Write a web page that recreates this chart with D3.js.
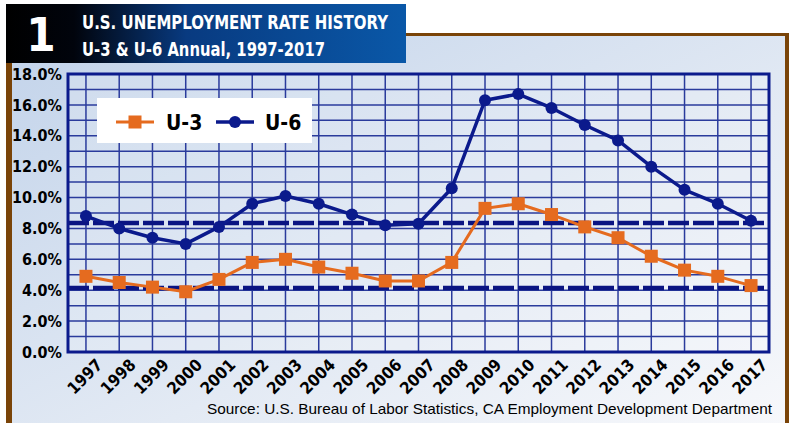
<!DOCTYPE html>
<html>
<head>
<meta charset="utf-8">
<script src="https://cdn.jsdelivr.net/npm/d3@7"></script>
<style>
  body { margin: 0; background: #fff; }
  svg { display: block; }
  .cond { font-family: "DejaVu Sans Condensed", "Liberation Sans Narrow", "Arial Narrow", sans-serif; font-stretch: condensed; }
  .src { font-family: "Liberation Sans", Arial, sans-serif; }
</style>
</head>
<body>
<svg id="chart"></svg>
<script>
var years = ["1997","1998","1999","2000","2001","2002","2003","2004","2005","2006","2007",
             "2008","2009","2010","2011","2012","2013","2014","2015","2016","2017"];
var u3 = [4.9,4.5,4.2,3.9,4.7,5.8,6.0,5.5,5.1,4.6,4.6,5.8,9.3,9.6,8.9,8.1,7.4,6.2,5.3,4.9,4.3];
var u6 = [8.8,8.0,7.4,7.0,8.1,9.6,10.1,9.6,8.9,8.2,8.3,10.6,16.3,16.7,15.8,14.7,13.7,12.0,10.5,9.6,8.5];
var yTicks = [0,2,4,6,8,10,12,14,16,18];
var refLines = [8.35, 4.15];
var seriesNames = ["U-3","U-6"];

var W = 789, H = 423;
var pLeft = 68, pRight = 769, pTop = 74, pBottom = 352;
var navy = "#0b1a8c", orange = "#e56b1f", brown = "#7a4408";

var svg = d3.select("#chart").attr("width", W).attr("height", H);
var defs = svg.append("defs");

var bg = defs.append("linearGradient").attr("id","bgGrad")
  .attr("x1","0").attr("y1","0").attr("x2","1").attr("y2","1");
bg.append("stop").attr("offset","0%").attr("stop-color","#c2d3ea");
bg.append("stop").attr("offset","60%").attr("stop-color","#e3eaf4");
bg.append("stop").attr("offset","100%").attr("stop-color","#f7f8fb");

var tg = defs.append("linearGradient").attr("id","titleGrad")
  .attr("x1","0").attr("y1","0").attr("x2","1").attr("y2","0");
tg.append("stop").attr("offset","0%").attr("stop-color","#000000");
tg.append("stop").attr("offset","17%").attr("stop-color","#01040c");
tg.append("stop").attr("offset","45%").attr("stop-color","#083a80");
tg.append("stop").attr("offset","100%").attr("stop-color","#0a58a8");

// framed background
svg.append("rect").attr("x",6).attr("y",33).attr("width",783).attr("height",H-33).attr("fill","url(#bgGrad)");
svg.append("rect").attr("x",6).attr("y",33).attr("width",783).attr("height",3).attr("fill",brown);
svg.append("rect").attr("x",785).attr("y",33).attr("width",4).attr("height",H-33).attr("fill",brown);
svg.append("rect").attr("x",6).attr("y",33).attr("width",6).attr("height",H-33).attr("fill",brown);

// title block
svg.append("rect").attr("x",6).attr("y",4).attr("width",400).attr("height",59).attr("fill","url(#titleGrad)");
svg.append("text").attr("class","cond").attr("x",41).attr("y",51).attr("text-anchor","middle")
  .attr("font-size",47).attr("font-weight","bold").attr("fill","#fff").text("1");
svg.append("text").attr("class","cond").attr("x",82).attr("y",29)
  .attr("font-size",20).attr("font-weight","bold").attr("fill","#fff")
  .attr("textLength",306).attr("lengthAdjust","spacingAndGlyphs")
  .text("U.S. UNEMPLOYMENT RATE HISTORY");
svg.append("text").attr("class","cond").attr("x",82).attr("y",56)
  .attr("font-size",20).attr("font-weight","bold").attr("fill","#fff")
  .attr("textLength",243).attr("lengthAdjust","spacingAndGlyphs")
  .text("U-3 & U-6 Annual, 1997-2017");

var x = d3.scalePoint().domain(years).range([pLeft, pRight]).padding(0.54);
var y = d3.scaleLinear().domain([0,18]).range([pBottom, pTop]);

// plot background + grid
svg.append("rect").attr("x",pLeft).attr("y",pTop).attr("width",pRight-pLeft).attr("height",pBottom-pTop)
  .attr("fill","#fff").attr("fill-opacity",0.15);

var grid = svg.append("g");
grid.selectAll("line.h").data(d3.range(1,18)).enter().append("line")
  .attr("x1",pLeft).attr("x2",pRight)
  .attr("y1",function(d){ return y(d); }).attr("y2",function(d){ return y(d); })
  .attr("stroke","#2a3b9c").attr("stroke-width",1.5);
grid.selectAll("line.v").data(years).enter().append("line")
  .attr("y1",pTop).attr("y2",pBottom)
  .attr("x1",function(d){ return x(d); }).attr("x2",function(d){ return x(d); })
  .attr("stroke","#2a3b9c").attr("stroke-width",1.5);

// reference dashed lines
svg.selectAll("line.ref").data(refLines).enter().append("line")
  .attr("x1",pLeft).attr("x2",pRight)
  .attr("y1",function(d){ return y(d); }).attr("y2",function(d){ return y(d); })
  .attr("stroke","#0a1482").attr("stroke-width",4.5).attr("stroke-dasharray","21,4");

svg.append("rect").attr("x",pLeft).attr("y",pTop).attr("width",pRight-pLeft).attr("height",pBottom-pTop)
  .attr("fill","none").attr("stroke",navy).attr("stroke-width",3);

// y axis labels
var yAxis = svg.append("g").attr("transform","translate(" + pLeft + ",0)")
  .call(d3.axisLeft(y).tickValues(yTicks).tickSize(0).tickPadding(6)
    .tickFormat(function(d){ return d.toFixed(1) + "%"; }));
yAxis.select(".domain").remove();
yAxis.attr("font-family",null).attr("font-size",null);
yAxis.selectAll("text").attr("class","cond").attr("font-size",16).attr("font-weight","bold")
  .attr("fill","#000");

// x axis labels
var xAxis = svg.append("g").attr("transform","translate(0," + pBottom + ")")
  .call(d3.axisBottom(x).tickSize(0).tickPadding(0));
xAxis.select(".domain").remove();
xAxis.attr("font-family",null).attr("font-size",null);
xAxis.selectAll("text").attr("class","cond").attr("font-size",16.5).attr("font-weight","bold")
  .attr("fill","#000")
  .attr("text-anchor","end").attr("dy",null).attr("y",0)
  .attr("transform","translate(17,14) rotate(-45)");

// lines
var line = d3.line().x(function(d,i){ return x(years[i]); }).y(function(d){ return y(d); });
svg.append("path").datum(u6).attr("d",line).attr("fill","none")
  .attr("stroke",navy).attr("stroke-width",3.5).attr("stroke-linejoin","round");
svg.append("path").datum(u3).attr("d",line).attr("fill","none")
  .attr("stroke",orange).attr("stroke-width",3).attr("stroke-linejoin","round");

svg.selectAll("circle.u6").data(u6).enter().append("circle")
  .attr("cx",function(d,i){ return x(years[i]); })
  .attr("cy",function(d){ return y(d); })
  .attr("r",6).attr("fill",navy);
svg.selectAll("rect.u3").data(u3).enter().append("rect")
  .attr("x",function(d,i){ return x(years[i]) - 6.5; })
  .attr("y",function(d){ return y(d) - 6.5; })
  .attr("width",13).attr("height",13).attr("fill",orange);

// legend
var lg = svg.append("g");
lg.append("rect").attr("x",97).attr("y",98).attr("width",215).attr("height",45).attr("fill","#fff");
lg.append("line").attr("x1",116).attr("x2",154).attr("y1",122).attr("y2",122)
  .attr("stroke",orange).attr("stroke-width",3);
lg.append("rect").attr("x",128.5).attr("y",115.5).attr("width",13).attr("height",13).attr("fill",orange);
lg.append("text").attr("class","cond").attr("x",166).attr("y",130).attr("font-size",21)
  .attr("font-weight","bold").text(seriesNames[0]);
lg.append("line").attr("x1",216).attr("x2",254).attr("y1",122).attr("y2",122)
  .attr("stroke",navy).attr("stroke-width",3.5);
lg.append("circle").attr("cx",235).attr("cy",122).attr("r",6).attr("fill",navy);
lg.append("text").attr("class","cond").attr("x",265).attr("y",130).attr("font-size",21)
  .attr("font-weight","bold").text(seriesNames[1]);

// source
svg.append("text").attr("class","src").attr("x",772).attr("y",414).attr("text-anchor","end")
  .attr("font-size",15).attr("fill","#000")
  .attr("textLength",565).attr("lengthAdjust","spacingAndGlyphs")
  .text("Source: U.S. Bureau of Labor Statistics, CA Employment Development Department");
</script>
</body>
</html>
